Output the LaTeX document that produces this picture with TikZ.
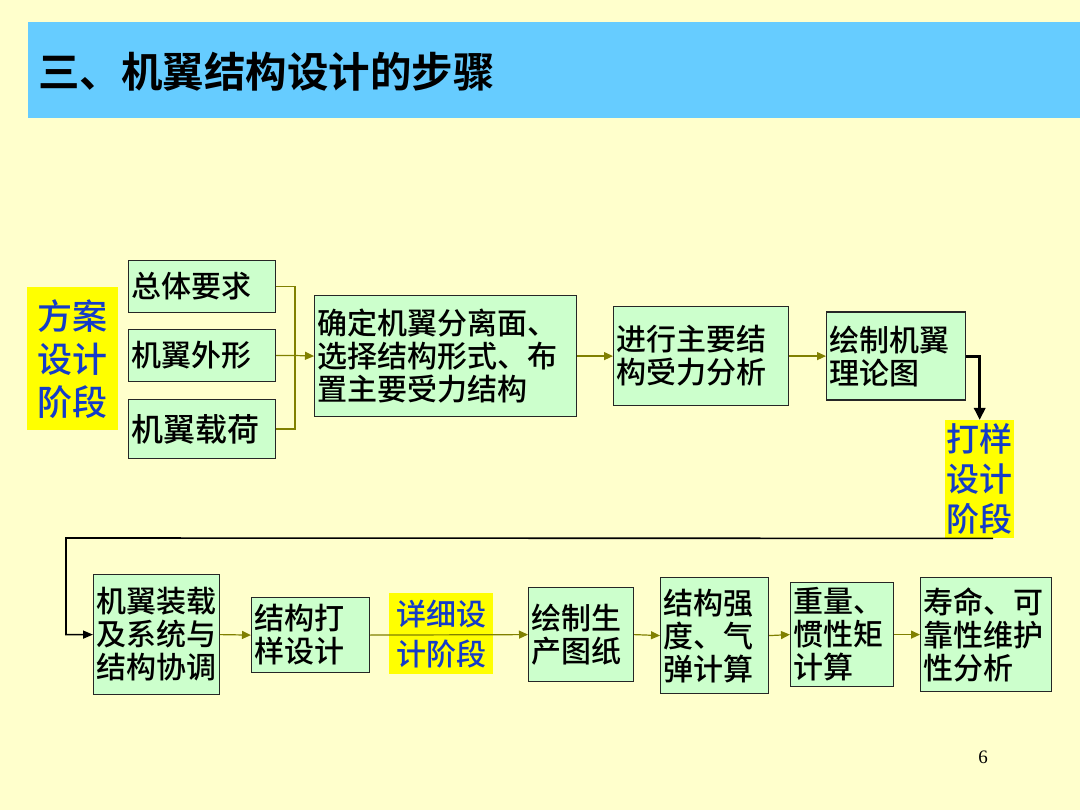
\documentclass[tikz,border=0pt]{standalone}
\usepackage{fontspec}
\usetikzlibrary{arrows.meta}
\setmainfont{Liberation Serif}
\newfontfamily\cjk{Noto Sans CJK SC Medium}
\newfontfamily\cjkb{Noto Sans CJK SC Bold}
\definecolor{bg}{RGB}{255,255,204}
\definecolor{titlebar}{RGB}{102,204,255}
\definecolor{boxgreen}{RGB}{204,255,204}
\definecolor{hl}{RGB}{255,255,0}
\definecolor{stageblue}{RGB}{20,60,200}
\definecolor{olivearrow}{RGB}{128,128,0}
\tikzset{
  box/.style={draw=black!85, line width=1.2pt, fill=boxgreen, anchor=north west,
    inner xsep=3pt, inner ysep=0pt, align=left,
    font=\cjk\fontsize{30}{33}\selectfont},
  stage/.style={fill=hl, anchor=north west, inner sep=0pt, align=center,
    text=stageblue},
  arr/.style={draw=olivearrow, line width=1.2pt, -{Triangle[length=9pt,width=8pt]}},
  link/.style={draw=olivearrow, line width=1.2pt},
  blk/.style={draw=black, line width=1.6pt, -{Triangle[length=10pt,width=8pt]}},
  blkthick/.style={draw=black, line width=3pt, -{Triangle[length=12pt,width=11pt]}},
}
\begin{document}
\begin{tikzpicture}[x=1pt,y=-1pt]
\fill[bg] (0,0) rectangle (1080,810);
\useasboundingbox (0,0) rectangle (1080,810);
% title bar
\fill[titlebar] (28,22) rectangle (1080,118);
\node[anchor=west, inner sep=0pt, font=\cjkb\fontsize{41.5}{44}\selectfont] (title) at (38,72) {三、机翼结构设计的步骤};

% stage 1
\node[stage, minimum width=91pt, minimum height=143pt, font=\cjk\fontsize{35}{43}\selectfont] (fa) at (27,287) {方案\\设计\\阶段};

% inputs
\node[box, minimum height=52pt, text width=141pt] (zt) at (128,260) {总体要求};
\node[box, minimum height=52pt, text width=141pt] (wx) at (128,329) {机翼外形};
\node[box, minimum height=59pt, text width=141pt, font=\cjk\fontsize{32}{36}\selectfont] (zh) at (128,399) {机翼载荷};
\coordinate (jn) at (295,355.5);

\node[box, minimum height=121pt, text width=256pt] (qd) at (314,295) {确定机翼分离面、\\选择结构形式、布\\置主要受力结构};
\node[box, minimum height=99pt, text width=169pt] (jx) at (613,306) {进行主要结\\构受力分析};
\node[box, minimum height=88pt, text width=133pt] (hz) at (826,311.5) {绘制机翼\\理论图};

% stage 2
\node[stage, minimum width=69pt, minimum height=118pt, font=\cjk\fontsize{33}{40}\selectfont] (dy) at (945,420) {打样\\设计\\阶段};

% bottom row
\node[box, minimum height=120pt, text width=120pt] (zz) at (93,574) {机翼装载\\及系统与\\结构协调};
\node[box, minimum height=75pt, text width=112pt] (jg) at (251,597) {结构打\\样设计};
\node[stage, minimum width=104pt, minimum height=81pt, font=\cjk\fontsize{30}{40}\selectfont] (xx) at (389,593) {详细设\\计阶段};
\node[box, minimum height=94pt, text width=99pt] (ht) at (528,587) {绘制生\\产图纸};
\node[box, minimum height=116pt, text width=102pt] (qdu) at (660,577) {结构强\\度、气\\弹计算};
\node[box, minimum height=104pt, text width=97pt] (zl) at (790,582) {重量、\\惯性矩\\计算};
\node[box, minimum height=114pt, text width=125pt] (sm) at (920,577) {寿命、可\\靠性维护\\性分析};

% connectors, top row
\draw[link] (zt.east) -| (jn);
\draw[link] (zh.east) -| (jn);
\draw[link] (wx.east) -- (jn);
\draw[arr] (jn) -- (qd.west);
\draw[arr] (qd.east) -- (jx.west);
\draw[arr] (jx.east) -- (hz.west);
\draw[blkthick] (hz.east) -| (dy.north);

% return line
\coordinate (rt) at (66,538);
\draw[blk] ([xshift=13.5pt]dy.south) -- (rt) |- (zz.west);

% bottom row
\draw[arr] (zz.east) -- (jg.west);
\draw[arr] (jg.east) -- (ht.west);
\draw[arr] (ht.east) -- (qdu.west);
\draw[arr] (qdu.east) -- (zl.west);
\draw[arr] (zl.east) -- (sm.west);

\node[font=\fontsize{19}{22}\selectfont, inner sep=0pt] (pg) at (983,757) {6};
\end{tikzpicture}
\end{document}
